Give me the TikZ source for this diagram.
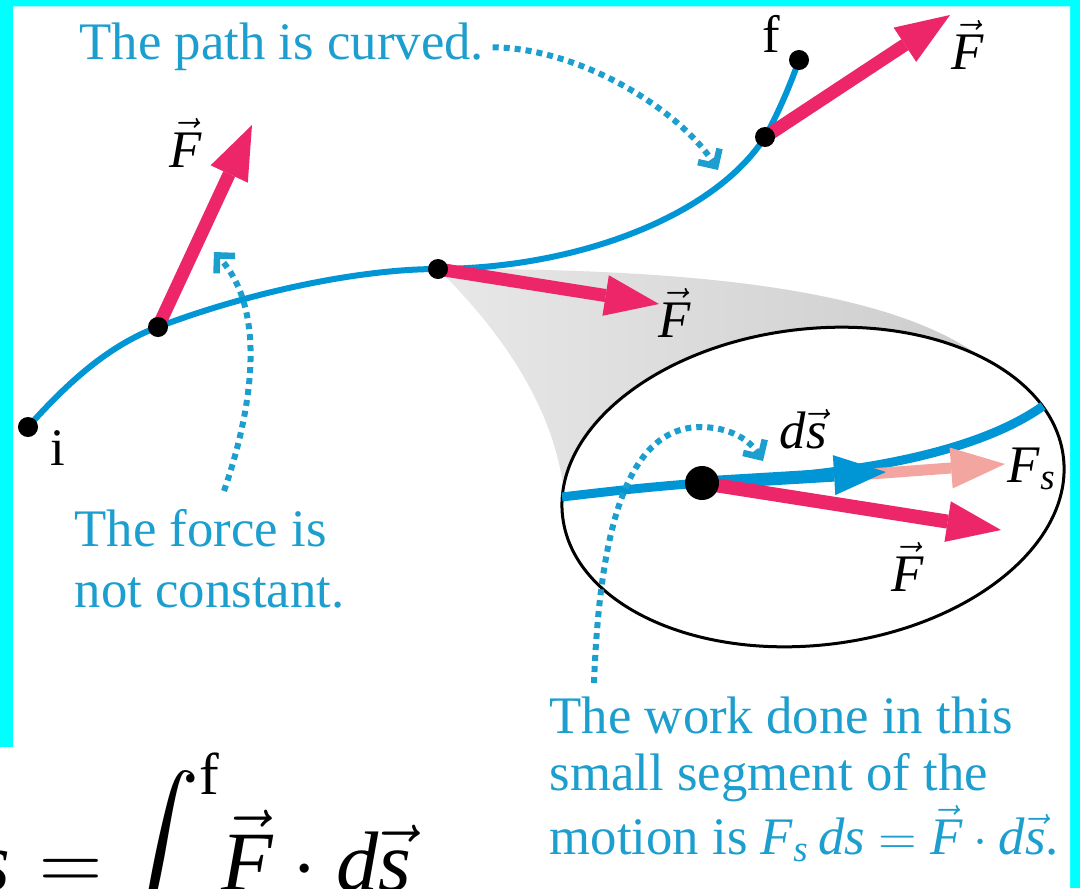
\documentclass[tikz,border=0pt]{standalone}
\usepackage{amsmath}
\usepackage{fontspec}
\setmainfont{Liberation Serif}
\usetikzlibrary{arrows.meta, positioning, shapes.geometric}

\definecolor{framecyan}{RGB}{0,255,255}
\definecolor{pathblue}{RGB}{0,150,214}
\definecolor{noteblue}{RGB}{28,158,206}
\definecolor{forcered}{RGB}{236,38,104}
\definecolor{compink}{RGB}{243,166,160}

\newcommand{\vF}{$\vec{\textit{F}}$}

\begin{document}
\begin{tikzpicture}[
  x=0.01cm, y=-0.01cm,
  note/.style={text=noteblue, inner sep=0pt, align=left, font=\fontsize{15}{17.3}\selectfont},
  tag/.style={inner sep=0pt, font=\fontsize{15}{18}\selectfont},
  dot/.style={circle, fill=black, inner sep=0pt, minimum size=0.2cm},
  bigdot/.style={dot, minimum size=0.34cm},
  route/.style={draw=pathblue, line width=0.06cm},
  force/.style={color=forcered, line width=0.13cm, -{Triangle[length=0.54cm, width=0.41cm, line width=0pt]}},
  hint/.style={draw=noteblue, line width=0.06cm, dash pattern=on 0.06cm off 0.05cm, -{Straight Barb[angle=90:0.18cm, line width=0.065cm]}},
  lens/.style={draw=black, line width=0.03cm, fill=white, ellipse, inner sep=0pt, minimum width=5.04cm, minimum height=3.16cm}
]

\useasboundingbox (0,0) rectangle (1080,888);
\clip (0,0) rectangle (1080,888);
\fill[framecyan] (0,0) rectangle (1080,888);
\fill[white] (13,6.5) -- (1070,6.5) -- (1070,888) -- (0,888) -- (0,747) -- (13,747) -- cycle;

\coordinate (i) at (28,427);
\coordinate (a) at (158,327);
\coordinate (b) at (438,269);
\coordinate (c) at (765,137);
\coordinate (f) at (799,60);
\coordinate (d) at (702,483);
\coordinate (tipA) at (252,125);
\coordinate (tipB) at (659,304);
\coordinate (tipC) at (950,15);
\coordinate (tipD) at (1001,530);
\coordinate (tipS) at (886,472);
\coordinate (tailFs) at (870,474);
\coordinate (tipFs) at (1005,464);
\coordinate (forceTail) at (224,491);
\coordinate (workTail) at (594,683);

\shade[left color=gray!18, right color=gray!40] (b) .. controls (700,268) and (900,290) .. (990,364) -- (813,487) -- (565,505) .. controls (560,420) and (510,340) .. (b) -- cycle;
\node[lens, rotate=6.8] (zoom) at (813,487) {};

\draw[route] (i) .. controls (70,380) and (110,345) .. (a)
  .. controls (250,292) and (360,269) .. (b)
  .. controls (580,268) and (715,215) .. (c)
  .. controls (780,110) and (792,80) .. (f);
\draw[route, line width=0.09cm] (562,497) .. controls (620,490) and (660,486) .. (d)
  .. controls (800,478) and (960,465) .. (1043,406);

\draw[force] (a) -- (tipA);
\draw[force] (b) -- (tipB);
\draw[force] (c) -- (tipC);
\draw[force, color=compink, line width=0.11cm] (tailFs) -- (tipFs);
\draw[force, color=pathblue, -{Triangle[length=0.52cm, width=0.4cm, line width=0pt]}] (d) -- (tipS);
\draw[force, line width=0.14cm] (d) -- (tipD);

\node[dot] (dotI) at (i) {};
\node[dot] (dotA) at (a) {};
\node[dot] (dotB) at (b) {};
\node[dot] (dotC) at (c) {};
\node[dot] (dotF) at (f) {};
\node[bigdot] (dotD) at (d) {};

\node[tag] (lblA) at (186,143) {\vF};
\node[tag] (lblB) at (675,313) {\vF};
\node[tag] (lblC) at (968,45) {\vF};
\node[tag] (lblD) at (908,567) {\vF};
\node[tag, anchor=base] (lblf) at (771,53) {f};
\node[tag, anchor=base] (lbli) at (58,465) {i};
\node[tag] (lblds) at (803,429) {\textit{d}$\vec{\textit{s}}$};
\node[tag, anchor=base west] (lblFs) at (1007,482) {\textit{F}$_{\text{\itshape s}}$};

\node[note, anchor=base west] (noteCurve) at (79,60) {The path is curved.};
\node[note, anchor=base west] (noteForce) at (74,607) {The force is\\not constant.};
\node[note, anchor=base west, font=\fontsize{15}{16.2}\selectfont] (noteWork) at (549,854) {The work done in this\\small segment of the\\motion is \textit{F}$_{\text{\itshape s}}$\,\textit{ds} $=$ $\vec{\textit{F}}\cdot\textit{d}\vec{\textit{s}}$.};

\draw[hint] ([xshift=0.08cm]noteCurve.east) .. controls (580,48) and (680,110) .. (718,170);
\draw[hint] (forceTail) .. controls (252,410) and (268,310) .. (214,252);
\draw[hint] (workTail) .. controls (600,520) and (630,428) .. (700,427)
  .. controls (730,427) and (750,440) .. (763,461);

\node[anchor=base west, inner sep=0pt, font=\fontsize{24}{28}\selectfont] (workEq) at (39,890) {\llap{\textit{s}\hspace{0.29cm}}$=\mkern-3mu\displaystyle\int^{\text{f}}\mkern-3mu\vec{\textit{F}}\cdot \textit{d}\vec{\textit{s}}$};

\end{tikzpicture}
\end{document}
